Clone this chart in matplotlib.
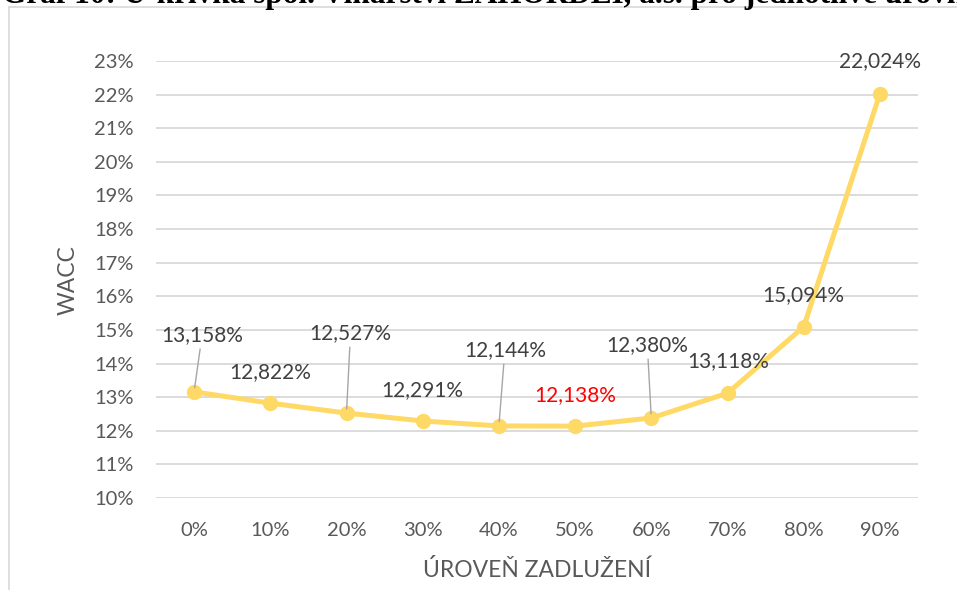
import numpy as np
import matplotlib
matplotlib.use("Agg")
import matplotlib.pyplot as plt
from matplotlib.lines import Line2D

plt.rcParams['font.family'] = ['Lato', 'DejaVu Sans']

# data
debt_levels = ["0%", "10%", "20%", "30%", "40%", "50%", "60%", "70%", "80%", "90%"]
wacc = [13.158, 12.822, 12.527, 12.291, 12.144, 12.138, 12.380, 13.118, 15.094, 22.024]
y_ticks = list(range(10, 24))

title_text = "Graf 10: U-křivka spol. Vinařství ZAHORDEI, a.s. pro jednotlivé úrovně zadlužení"

# label placement (pixels from point), leader lines, highlighted minimum
label_offsets = [(8, 57), (0, 31), (4, 80), (0, 31), (6, 76),
                 (0, 31), (-4, 73), (1, 32), (0, 32), (0, 33)]
leaders = [0, 2, 4, 6]
highlight = 5

W, H = 957, 590
fig = plt.figure(figsize=(W / 100, H / 100), dpi=100)
ax = fig.add_axes([156 / W, 1 - 498 / H, (918 - 156) / W, (498 - 61) / H])

x = np.arange(len(debt_levels))
ax.plot(x, wacc, color="#FFD966", lw=3.6, marker="o", markersize=10,
        solid_capstyle="round", zorder=3)

for i, v in enumerate(wacc):
    txt = f"{v:.3f}".replace(".", ",") + "%"
    col = "red" if i == highlight else "#404040"
    arrow = None
    if i in leaders:
        arrow = dict(arrowstyle="-", color="#A6A6A6", lw=1, shrinkA=1, shrinkB=3)
    ax.annotate(txt, (x[i], v), xytext=label_offsets[i], textcoords="offset pixels",
                ha="center", va="center", fontsize=15, color=col,
                arrowprops=arrow, zorder=4)

ax.set_xlim(-0.5, len(debt_levels) - 0.5)
ax.set_ylim(10, 23)
ax.set_xticks(x)
ax.set_xticklabels(debt_levels)
ax.set_yticks(y_ticks)
ax.set_yticklabels([f"{t}%" for t in y_ticks])
ax.tick_params(axis="both", length=0, labelsize=14.5, colors="#595959")
ax.tick_params(axis="y", pad=16)
ax.tick_params(axis="x", pad=17)
ax.grid(axis="y", color="#D9D9D9", lw=1.3)
ax.set_axisbelow(True)
for s in ax.spines.values():
    s.set_visible(False)

fig.text(68 / W, 1 - 280 / H, "WACC", rotation=90, ha="center", va="center",
         fontsize=16.5, color="#595959")
fig.text(537 / W, 1 - 570 / H, "ÚROVEŇ ZADLUŽENÍ", ha="center", va="center",
         fontsize=16.5, color="#595959")

# chart frame (only top and left edges inside the crop)
fig.add_artist(Line2D([9 / W, 1], [1 - 7 / H, 1 - 7 / H], color="#D9D9D9", lw=1.2,
                      transform=fig.transFigure))
fig.add_artist(Line2D([9 / W, 9 / W], [0, 1 - 7 / H], color="#D9D9D9", lw=1.2,
                      transform=fig.transFigure))

# cut-off caption above the chart
fig.text(2 / W, 1 - 3 / H, title_text, ha="left", va="baseline", fontsize=22.5,
         fontweight="bold", family=["Liberation Serif", "DejaVu Serif"], color="black")

fig.savefig("out.png", dpi=100)
